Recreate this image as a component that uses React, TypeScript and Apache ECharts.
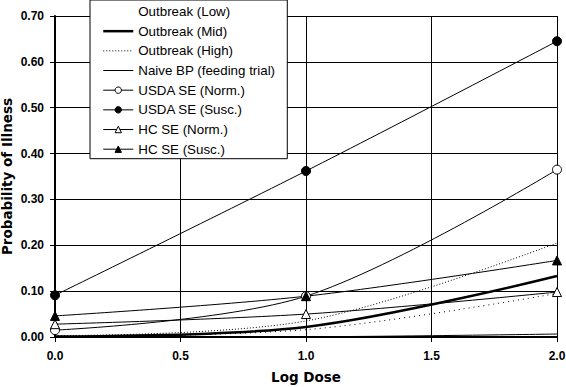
import React, { useEffect, useRef } from "react";
import * as echarts from "echarts";

// Log dose values (x) shared by every series
const logDose = [0, 1, 2];

// Probability of illness
const outbreakLow = [0.001, 0.016, 0.095];
const outbreakMid = [0.001, 0.022, 0.133];
const outbreakHigh = [0.003, 0.035, 0.205];
const naiveBP = [0.0, 0.0005, 0.0065];
const usdaNorm = [0.015, 0.089, 0.365];
const usdaSusc = [0.091, 0.362, 0.645];
const hcNorm = [0.028, 0.05, 0.098];
const hcSusc = [0.046, 0.089, 0.167];

const seriesNames = [
  "Outbreak (Low)",
  "Outbreak (Mid)",
  "Outbreak (High)",
  "Naive BP (feeding trial)",
  "USDA SE (Norm.)",
  "USDA SE (Susc.)",
  "HC SE (Norm.)",
  "HC SE (Susc.)",
];

const xTicks = { min: 0, max: 2, interval: 0.5 };
const yTicks = { min: 0, max: 0.7, interval: 0.1 };

const pairs = (ys: number[]) => logDose.map((x, i) => [x, ys[i]]);

export default function App() {
  const ref = useRef<HTMLDivElement>(null);

  useEffect(() => {
    if (!ref.current) return;
    const chart = echarts.init(ref.current, null, { renderer: "svg" });
    const tickFont = {
      fontFamily: "'Liberation Sans', Arial, sans-serif",
      fontWeight: "bold" as const,
      fontSize: 12,
      color: "#000",
    };
    const nameFont = {
      fontFamily: "'DejaVu Sans', sans-serif",
      fontWeight: "bold" as const,
      fontSize: 13.5,
      color: "#000",
    };
    const smooth = 1 / 3;
    const base = (
      name: string,
      ys: number[],
      opts: {
        symbol?: string;
        fill?: string;
        width?: number;
        dash?: number[] | "solid";
      }
    ) => ({
      name,
      type: "line",
      data: pairs(ys),
      smooth,
      symbol: opts.symbol ?? "none",
      symbolSize: 9,
      lineStyle: {
        color: "#000",
        width: opts.width ?? 1,
        type: opts.dash ?? "solid",
      },
      itemStyle: {
        color: opts.fill ?? "#000",
        borderColor: "#000",
        borderWidth: 1,
      },
      emphasis: { disabled: true },
      silent: true,
    });

    const series = [
      base(seriesNames[0], outbreakLow, { dash: [1, 4] }),
      base(seriesNames[1], outbreakMid, { width: 2.5 }),
      base(seriesNames[2], outbreakHigh, { dash: [1, 2] }),
      base(seriesNames[3], naiveBP, {}),
      base(seriesNames[4], usdaNorm, { symbol: "circle", fill: "#fff" }),
      base(seriesNames[5], usdaSusc, { symbol: "circle", fill: "#000" }),
      base(seriesNames[6], hcNorm, { symbol: "triangle", fill: "#fff" }),
      base(seriesNames[7], hcSusc, { symbol: "triangle", fill: "#000" }),
    ];

    const hidden = { itemStyle: { opacity: 0 } };
    const legendData = [
      { name: seriesNames[0], itemStyle: { opacity: 0 }, lineStyle: { opacity: 0 } },
      { name: seriesNames[1], ...hidden, lineStyle: { width: 2.5 } },
      { name: seriesNames[2], ...hidden },
      { name: seriesNames[3], ...hidden },
      { name: seriesNames[4] },
      { name: seriesNames[5] },
      { name: seriesNames[6] },
      { name: seriesNames[7] },
    ];

    chart.setOption({
      animation: false,
      backgroundColor: "#fff",
      grid: {
        left: 55,
        right: 9,
        top: 16,
        bottom: 50,
        containLabel: false,
        outerBoundsMode: "none",
      },
      legend: {
        orient: "vertical",
        left: 90,
        top: 0,
        padding: [5, 12, 3, 12],
        itemWidth: 30,
        itemHeight: 8,
        itemGap: 6.67,
        backgroundColor: "#fff",
        borderColor: "#000",
        borderWidth: 1,
        borderRadius: 0,
        selectedMode: false,
        textStyle: {
          fontFamily: "'Liberation Sans', Arial, sans-serif",
          fontSize: 13.33,
          color: "#000",
        },
        itemStyle: { borderWidth: 1 },
        lineStyle: { width: 1 },
        data: legendData,
        z: 10,
      },
      xAxis: {
        type: "value",
        ...xTicks,
        name: "Log Dose",
        nameLocation: "middle",
        nameGap: 33,
        nameMoveOverlap: false,
        nameTextStyle: nameFont,
        axisLine: { show: true, lineStyle: { color: "#000", width: 2 } },
        axisTick: { show: true, length: 5, lineStyle: { color: "#000", width: 1 } },
        axisLabel: {
          ...tickFont,
          margin: 13,
          formatter: (v: number) => v.toFixed(1),
        },
        splitLine: { show: true, lineStyle: { color: "#000", width: 1 } },
      },
      yAxis: {
        type: "value",
        ...yTicks,
        name: "Probability of Illness",
        nameLocation: "middle",
        nameGap: 41,
        nameMoveOverlap: false,
        nameTextStyle: nameFont,
        axisLine: { show: true, lineStyle: { color: "#000", width: 2 } },
        axisTick: { show: true, length: 5, lineStyle: { color: "#000", width: 1 } },
        axisLabel: {
          ...tickFont,
          margin: 11,
          formatter: (v: number) => v.toFixed(2),
        },
        splitLine: { show: true, lineStyle: { color: "#000", width: 1 } },
      },
      series,
    });

    return () => chart.dispose();
  }, []);

  return (
    <div
      ref={ref}
      style={{
        position: "fixed",
        left: 0,
        top: 0,
        width: 566,
        height: 387,
        background: "#fff",
      }}
    />
  );
}
